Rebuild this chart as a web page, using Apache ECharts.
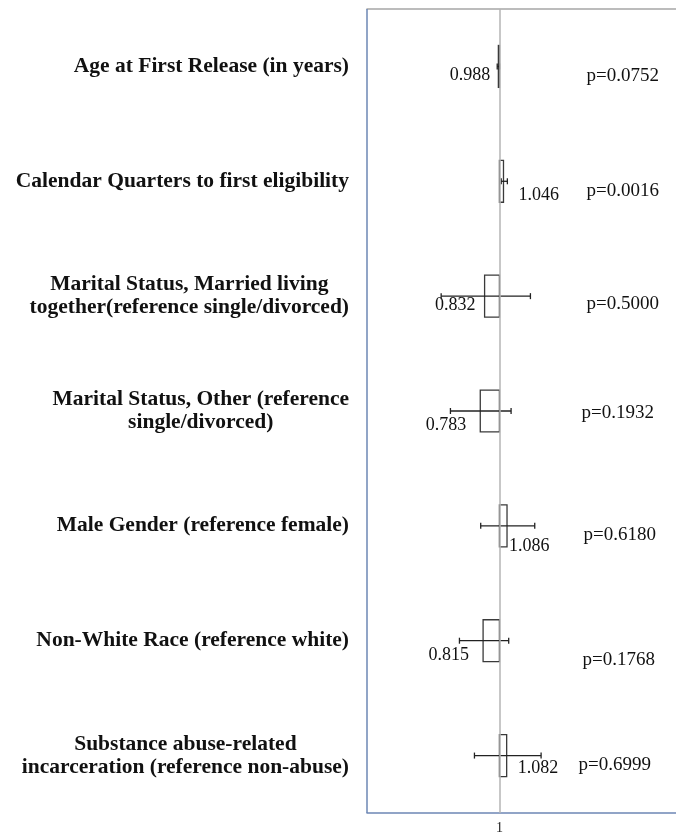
<!DOCTYPE html>
<html>
<head>
<meta charset="utf-8">
<script src="https://cdn.jsdelivr.net/npm/echarts@6/dist/echarts.min.js"></script>
<style>
html, body { margin: 0; padding: 0; background: #fff; }
#main { width: 676px; height: 835px; }
</style>
</head>
<body>
<div id="main"></div>
<script>
// data
var categories = [
	'Age at First Release (in years)',
	'Calendar Quarters to first eligibility',
	'Marital Status, Married living\ntogether(reference single/divorced)',
	'Marital Status, Other (reference\nsingle/divorced)',
	'Male Gender (reference female)',
	'Non-White Race (reference white)',
	'Substance abuse-related\nincarceration (reference non-abuse)'
];
var oddsRatios = [0.988, 1.046, 0.832, 0.783, 1.086, 0.815, 1.082];
var ciLower = [0.975, 1.02, 0.34, 0.445, 0.788, 0.547, 0.717];
var ciUpper = [1.001, 1.09, 1.351, 1.132, 1.40, 1.105, 1.472];
var pValues = ['p=0.0752', 'p=0.0016', 'p=0.5000', 'p=0.1932', 'p=0.6180', 'p=0.1768', 'p=0.6999'];
var tickLabels = ['1'];
var xMin = -0.5;
var xMax = 3;

// label placement (pixels), as the source chart had them
var valueLabelOffset = [[8, 9], [15, 14], [9, 9], [14, 14], [2, 20], [14, 15], [11, 13]];
var pLabelOffset = [[87, 10], [87, 10], [87, 8], [82, 2], [84, 9], [83, 19], [79, 9]];

var serif = '"Liberation Serif", "Times New Roman", serif';

var boxData = oddsRatios.map(function (v, i) { return [v, i]; });
var ciData = oddsRatios.map(function (v, i) { return [ciLower[i], ciUpper[i], i]; });
var pData = pValues.map(function (p, i) { return [1, i]; });

function renderBox(params, api) {
	var v = api.value(0);
	var i = api.value(1);
	var base = api.coord([1, i]);
	var end = api.coord([v, i]);
	var h = api.size([0, 1])[1] * 0.365;
	var x0 = Math.min(base[0], end[0]);
	var w = Math.abs(end[0] - base[0]);
	var right = v >= 1;
	var off = valueLabelOffset[i];
	return {
		type: 'group',
		children: [{
			type: 'rect',
			shape: { x: x0, y: base[1] - h / 2, width: w, height: h },
			style: { fill: 'none', stroke: '#3a3a3a', lineWidth: 1.3 }
		}, {
			type: 'text',
			x: right ? x0 + w + off[0] : x0 - off[0],
			y: base[1] + off[1],
			style: {
				text: oddsRatios[i].toFixed(3),
				fontSize: 18,
				fontFamily: serif,
				fill: '#111',
				align: right ? 'left' : 'right',
				verticalAlign: 'middle'
			}
		}]
	};
}

function renderCI(params, api) {
	var i = api.value(2);
	var lo = api.coord([api.value(0), i]);
	var hi = api.coord([api.value(1), i]);
	var cap = 3;
	var st = { stroke: '#222', lineWidth: 1.3 };
	return {
		type: 'group',
		children: [
			{ type: 'line', shape: { x1: lo[0], y1: lo[1], x2: hi[0], y2: hi[1] }, style: st },
			{ type: 'line', shape: { x1: lo[0], y1: lo[1] - cap, x2: lo[0], y2: lo[1] + cap }, style: st },
			{ type: 'line', shape: { x1: hi[0], y1: hi[1] - cap, x2: hi[0], y2: hi[1] + cap }, style: st }
		]
	};
}

function renderP(params, api) {
	var i = api.value(1);
	var pt = api.coord([api.value(0), i]);
	var off = pLabelOffset[i];
	return {
		type: 'text',
		x: pt[0] + off[0],
		y: pt[1] + off[1],
		style: {
			text: pValues[i],
			fontSize: 19,
			fontFamily: serif,
			fill: '#111',
			align: 'left',
			verticalAlign: 'middle'
		}
	};
}

var myChart = echarts.init(document.getElementById('main'));
var option = {
	animation: false,
	backgroundColor: '#fff',
	grid: {
		left: 367,
		right: 0,
		top: 9,
		bottom: 22,
		containLabel: false,
		outerBoundsMode: 'none'
	},
	xAxis: [{
		type: 'value',
		min: xMin,
		max: xMax,
		interval: 0.5,
		splitLine: { show: false },
		axisTick: { show: false },
		axisLine: { show: true, lineStyle: { color: '#6d87b5', width: 1.5 } },
		axisLabel: {
			margin: 8,
			fontSize: 14,
			fontFamily: serif,
			color: '#222',
			formatter: function (v) {
				return tickLabels.indexOf(String(v)) >= 0 ? String(v) : '';
			}
		}
	}, {
		type: 'value',
		position: 'top',
		min: xMin,
		max: xMax,
		splitLine: { show: false },
		axisTick: { show: false },
		axisLabel: { show: false },
		axisLine: { show: true, lineStyle: { color: '#a6a6a6', width: 1.5 } }
	}],
	yAxis: {
		type: 'category',
		inverse: true,
		data: categories,
		axisTick: { show: false },
		axisLine: { show: false },
		axisLabel: {
			margin: 18,
			interval: 0,
			formatter: function (s) {
				return s.split('\n').map(function (t) { return '{c|' + t + '}'; }).join('\n');
			},
			rich: {
				c: {
					align: 'center',
					fontSize: 21.5,
					fontWeight: 'bold',
					fontFamily: serif,
					color: '#111',
					lineHeight: 23
				}
			}
		}
	},
	series: [{
		name: 'box',
		type: 'custom',
		renderItem: renderBox,
		encode: { x: 0, y: 1 },
		data: boxData,
		z: 3,
		markLine: {
			silent: true,
			symbol: 'none',
			label: { show: false },
			data: [
				{ xAxis: 1, lineStyle: { color: '#b5b5b5', width: 1.5, type: 'solid' } },
				{ xAxis: xMin, lineStyle: { color: '#6d87b5', width: 1.5, type: 'solid' } }
			]
		}
	}, {
		name: 'ci',
		type: 'custom',
		renderItem: renderCI,
		encode: { x: [0, 1], y: 2 },
		data: ciData,
		z: 4
	}, {
		name: 'p',
		type: 'custom',
		renderItem: renderP,
		encode: { x: 0, y: 1 },
		data: pData,
		z: 5
	}]
};
myChart.setOption(option);
</script>
</body>
</html>
